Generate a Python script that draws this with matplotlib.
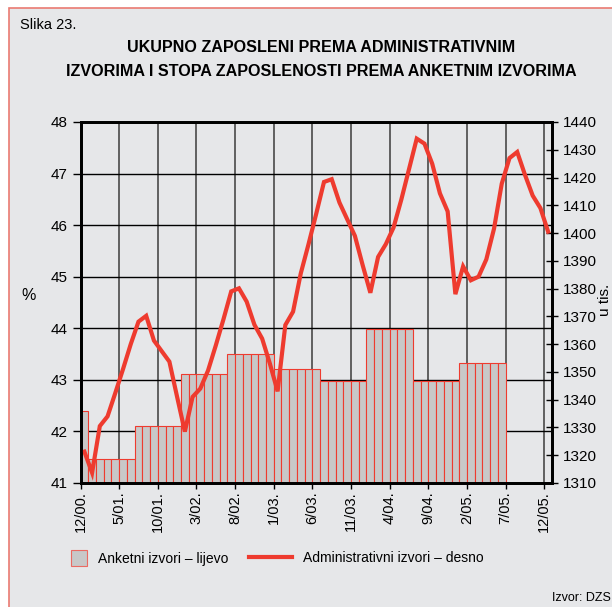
import matplotlib
matplotlib.use("Agg")
import matplotlib.pyplot as plt
from matplotlib.patches import Rectangle
from matplotlib.lines import Line2D

plt.rcParams['font.family'] = ['Liberation Sans', 'DejaVu Sans']

# month index 0 = 12/2000
tick_labels = ['12/00.', '5/01.', '10/01.', '3/02.', '8/02.', '1/03.', '6/03.',
               '11/03.', '4/04.', '9/04.', '2/05.', '7/05.', '12/05.']
tick_months = [0, 5, 10, 15, 20, 25, 30, 35, 40, 45, 50, 55, 60]

# survey employment rate (%), half-year values, repeated per month
survey_halfyear = [42.4, 41.47, 42.1, 43.12, 43.5, 43.21, 42.98, 43.98, 42.98, 43.32]
survey_months = [1, 6, 6, 6, 6, 6, 6, 6, 6, 6]

# administrative employment (thousands), monthly 12/00 .. 12/05
admin = [1321.3, 1313.7, 1330.5, 1334.0, 1342.4, 1351.0, 1360.0, 1368.1, 1370.2, 1361.3,
         1357.5, 1353.7, 1341.0, 1328.5, 1341.0, 1344.0, 1350.5, 1359.5, 1369.0, 1379.0,
         1380.1, 1375.3, 1367.0, 1362.0, 1353.0, 1343.0, 1366.9, 1371.7, 1385.5, 1396.0,
         1407.0, 1418.4, 1419.4, 1411.0, 1405.0, 1399.0, 1388.5, 1378.5, 1391.4, 1396.0,
         1402.0, 1412.0, 1423.0, 1434.0, 1432.2, 1425.0, 1414.3, 1407.8, 1378.0, 1388.0,
         1383.0, 1384.3, 1390.5, 1401.6, 1417.8, 1427.0, 1429.2, 1421.0, 1413.5, 1409.0,
         1400.5]

survey = []
for v, n in zip(survey_halfyear, survey_months):
    survey += [v] * n

bg = '#e6e7e9'
red = '#ee3b2f'

fig = plt.figure(figsize=(6.12, 6.07), dpi=100, facecolor='white')
# framed panel
fig.patches.append(Rectangle((9/612, -0.1), 1.2, 1 - 7.5/607 + 0.1, transform=fig.transFigure,
                             facecolor=bg, edgecolor='#ea7a72', lw=1.2, zorder=-5))

ax = fig.add_axes([80.5/612, 1 - 483/607, 471.5/612, 361/607])
ax.set_facecolor(bg)
ax.set_axisbelow(True)

ax.bar([i for i in range(len(survey))], [v - 41 for v in survey], bottom=41, width=1.0,
       align='edge', color='#c8c8c8', edgecolor=red, lw=0.8)
ax.set_xlim(0, 61)
ax.set_ylim(41, 48)
ax.set_yticks(range(41, 49))
ax.set_xticks(tick_months)
ax.set_xticklabels(tick_labels, rotation=90, fontsize=10.5)
ax.tick_params(axis='y', labelsize=11, length=6, width=1, direction='out')
ax.tick_params(axis='x', length=4, width=1, direction='out', pad=2)
ax.yaxis.grid(True, color='black', lw=1)
ax.xaxis.grid(True, color='#606060', lw=1.4)
for s in ax.spines.values():
    s.set_linewidth(2)
ax.set_ylabel('%', fontsize=11.5, rotation=0)
ax.yaxis.set_label_coords(-0.11, 0.5)

ax2 = ax.twinx()
ax2.plot([i + 0.5 for i in range(len(admin))], admin, color=red, lw=3,
         solid_joinstyle='miter')
ax2.set_ylim(1310, 1440)
ax2.set_yticks(range(1310, 1450, 10))
ax2.tick_params(axis='y', labelsize=11, length=9, width=1, direction='inout')
for s in ax2.spines.values():
    s.set_linewidth(2)

fig.text(605/612, 1 - 300/607, 'u tis.', rotation=90, ha='center', va='center', fontsize=11)

fig.text(20/612, 1 - 25/607, 'Slika 23.', fontsize=10.5, va='center')
fig.text(321/612, 1 - 60/607,
         'UKUPNO ZAPOSLENI PREMA ADMINISTRATIVNIM\nIZVORIMA I STOPA ZAPOSLENOSTI PREMA ANKETNIM IZVORIMA',
         ha='center', va='center', fontsize=11.6, fontweight='bold', linespacing=1.75)

h1 = Rectangle((0, 0), 1, 1, facecolor='#c8c8c8', edgecolor='#ea6a62', lw=0.8)
h2 = Line2D([], [], color=red, lw=3)
fig.legend([h1], ['Anketni izvori – lijevo'], loc='center left',
           bbox_to_anchor=(58/612, 1 - 558/607), frameon=False, fontsize=10,
           handlelength=1.2, handleheight=1.3, handletextpad=0.8)
fig.legend([h2], ['Administrativni izvori – desno'], loc='center left',
           bbox_to_anchor=(236/612, 1 - 558/607), frameon=False, fontsize=10,
           handlelength=3.1, handletextpad=0.8)

fig.text(611/612, 1 - 598/607, 'Izvor: DZS', fontsize=9, va='center', ha='right')

fig.savefig('out.png', dpi=100, facecolor=fig.get_facecolor())
